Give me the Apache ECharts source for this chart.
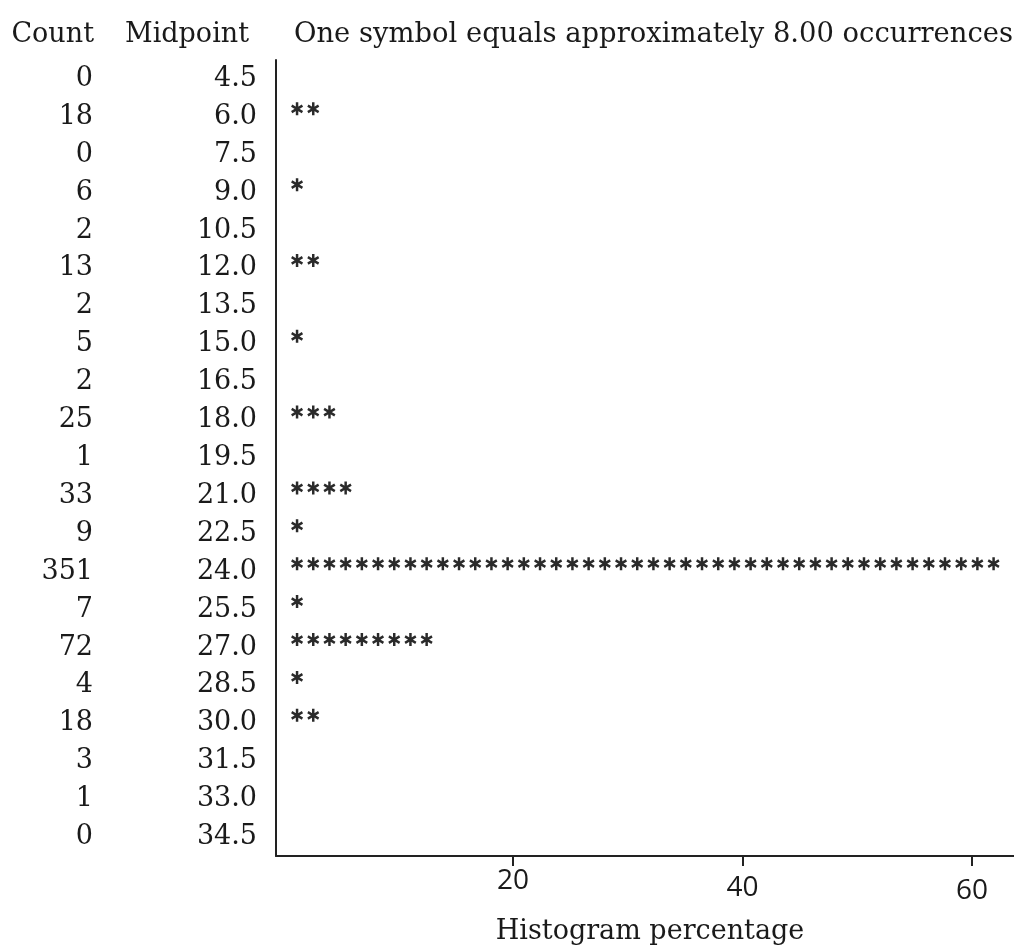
<!DOCTYPE html>
<html>
<head>
<meta charset="utf-8">
<script src="https://cdn.jsdelivr.net/npm/echarts@6/dist/echarts.min.js"></script>
<style>
html,body{margin:0;padding:0;background:#fff;}
#chart{width:1014px;height:950px;}
</style>
</head>
<body>
<div id="chart"></div>
<script>
// ---- data ----
const midpoints = ['4.5','6.0','7.5','9.0','10.5','12.0','13.5','15.0','16.5','18.0','19.5','21.0','22.5','24.0','25.5','27.0','28.5','30.0','31.5','33.0','34.5'];
const counts    = [0,18,0,6,2,13,2,5,2,25,1,33,9,351,7,72,4,18,3,1,0];
const stars     = [0,2,0,1,0,2,0,1,0,3,0,4,1,44,1,9,1,2,0,0,0];
const percentTicks = [20,40,60];
const headerCount = 'Count';
const headerMid = 'Midpoint';
const headerNote = 'One symbol equals approximately 8.00 occurrences';
const xName = 'Histogram percentage';

const SERIF = '"DejaVu Serif", "Liberation Serif", serif';
const HAND = '"Open Sans", sans-serif';
const INK = '#1a1a1a';
const ASTERISK = 'path://M40 0L60 0L60 100L40 100ZM1.7 33.66L11.7 16.34L98.3 66.34L88.3 83.66ZM11.7 83.66L1.7 66.34L88.3 16.34L98.3 33.66Z';

const chart = echarts.init(document.getElementById('chart'), null, {renderer:'canvas'});
chart.setOption({
  animation:false,
  backgroundColor:'#fff',
  title:[
    {text:headerCount, right:920, top:21, padding:0, textStyle:{fontFamily:SERIF, fontSize:27, fontWeight:'normal', color:INK}},
    {text:headerMid, right:765, top:21, padding:0, textStyle:{fontFamily:SERIF, fontSize:27, fontWeight:'normal', color:INK}},
    {text:headerNote, left:294, top:21, padding:0, textStyle:{fontFamily:SERIF, fontSize:27.4, fontWeight:'normal', color:INK}}
  ],
  grid:{left:276, right:0, top:60, bottom:94, containLabel:false},
  xAxis:[
    {
      type:'value', position:'bottom', min:-0.65, max:63.66,
      axisLine:{show:true, onZero:false, lineStyle:{color:'#222', width:2}},
      axisTick:{show:true, customValues:percentTicks, length:10, lineStyle:{color:'#222', width:2}},
      axisLabel:{show:true, customValues:percentTicks, margin:11, fontFamily:HAND, fontSize:28, color:INK,
        formatter:function(v){ return v === 20 ? '{a|' + v + '}' : (v === 40 ? '{b|' + v + '}' : '{c|' + v + '}'); },
        rich:{
          a:{fontFamily:HAND, fontSize:28, color:INK},
          b:{fontFamily:HAND, fontSize:28, color:INK, padding:[7,0,0,0]},
          c:{fontFamily:HAND, fontSize:28, color:INK, padding:[10,0,0,0]}
        }},
      splitLine:{show:false},
      name:xName, nameLocation:'middle', nameGap:62,
      nameTextStyle:{fontFamily:SERIF, fontSize:27, color:INK, padding:[0,0,0,10]}
    },
    {
      // hidden axis measured in symbols (one symbol = 8 occurrences)
      type:'value', position:'top', min:-0.8, max:44.76, show:false
    }
  ],
  yAxis:[
    {
      type:'category', data:midpoints, inverse:true, position:'left',
      axisLine:{show:true, onZero:false, lineStyle:{color:'#222', width:2}},
      axisTick:{show:false},
      axisLabel:{margin:19, fontFamily:SERIF, fontSize:27, color:INK, align:'right'},
      splitLine:{show:false}
    },
    {
      type:'category', data:midpoints, inverse:true, position:'left', offset:183,
      axisLine:{show:false, onZero:false}, axisTick:{show:false},
      axisLabel:{margin:0, fontFamily:SERIF, fontSize:27, color:INK, align:'right',
        formatter:function(v, i){ return String(counts[i]); }},
      splitLine:{show:false}
    }
  ],
  series:[{
    type:'pictorialBar',
    xAxisIndex:1, yAxisIndex:0,
    symbol:ASTERISK,
    symbolSize:[12,13],
    symbolMargin:'0!',
    symbolOffset:[0,-8],
    symbolPosition:'start',
    itemStyle:{color:'#2a2a2a'},
    silent:true,
    data:stars.map(function(s){ return s>0 ? {value:s, symbolRepeat:s, symbolBoundingData:s} : '-'; })
  }]
});
</script>
</body>
</html>
